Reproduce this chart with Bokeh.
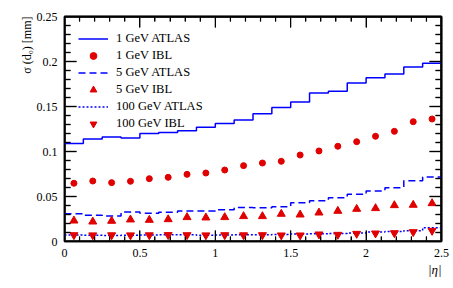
import numpy as np
from bokeh.plotting import figure
from bokeh.models import (LinearAxis, FixedTicker, SingleIntervalTicker, Title, Legend,
                          LegendItem, Range1d)
from bokeh.embed import file_html
from bokeh.resources import INLINE

# ---- data ----
eta_centers = [0.0625 + 0.125 * i for i in range(20)]
bin_width = 0.125
atlas_1gev = [0.109, 0.114, 0.116, 0.115, 0.120, 0.121, 0.123, 0.127, 0.131, 0.135,
              0.142, 0.149, 0.155, 0.165, 0.167, 0.176, 0.182, 0.186, 0.194, 0.198]
ibl_1gev = [0.0647, 0.0672, 0.0654, 0.0669, 0.0698, 0.0713, 0.0746, 0.0761, 0.0794, 0.0843,
            0.0872, 0.0891, 0.0961, 0.1006, 0.1058, 0.1109, 0.1169, 0.1224, 0.1331, 0.1361]
atlas_5gev = [0.0309, 0.0291, 0.0283, 0.0328, 0.0313, 0.0324, 0.0339, 0.0339, 0.0354, 0.0378,
              0.0374, 0.0387, 0.0431, 0.0454, 0.0487, 0.0524, 0.0561, 0.0598, 0.0676, 0.0717]
ibl_5gev = [0.0231, 0.0220, 0.0228, 0.0243, 0.0239, 0.0246, 0.0269, 0.0265, 0.0269, 0.0280,
            0.0280, 0.0306, 0.0298, 0.0320, 0.0339, 0.0361, 0.0369, 0.0402, 0.0406, 0.0424]
atlas_100gev = [0.0072, 0.0070, 0.0068, 0.0070, 0.0072, 0.0074, 0.0074, 0.0070, 0.0072, 0.0074,
                0.0075, 0.0078, 0.0082, 0.0085, 0.0090, 0.0095, 0.0105, 0.0110, 0.0120, 0.0153]
ibl_100gev = [0.0072, 0.0070, 0.0071, 0.0070, 0.0071, 0.0073, 0.0072, 0.0070, 0.0072, 0.0071,
              0.0072, 0.0069, 0.0069, 0.0080, 0.0076, 0.0087, 0.0091, 0.0094, 0.0106, 0.0120]

x_ticks = [0, 0.5, 1, 1.5, 2, 2.5]
x_tick_labels = ["0", "0.5", "1", "1.5", "2", "2.5"]
y_ticks = [0, 0.05, 0.1, 0.15, 0.2, 0.25]
y_tick_labels = ["0", "0.05", "0.1", "0.15", "0.2", "0.25"]

FONT = "Liberation Serif"
BLUE = "#0000ff"
RED = "#e00000"
INK = "#000000"
TICK = "#3a3a3a"

W, H = 453, 288
BL, BR, BT, BB = 64, 12, 16, 47
FW, FH = W - BL - BR, H - BT - BB
x_lo, x_hi = x_ticks[0], x_ticks[-1]
y_lo, y_hi = y_ticks[0], y_ticks[-1]
xpx = (x_hi - x_lo) / FW
ypx = (y_hi - y_lo) / FH

p = figure(width=W, height=H, output_backend="svg", toolbar_location=None,
           x_range=Range1d(x_lo, x_hi), y_range=Range1d(y_lo, y_hi),
           min_border_left=BL, min_border_right=BR, min_border_top=BT, min_border_bottom=BB)
p.xgrid.visible = False
p.ygrid.visible = False
p.outline_line_color = INK
p.outline_line_width = 1.5
p.background_fill_color = "white"
p.border_fill_color = "white"


def minor_positions(ticks, nminor):
    step = ticks[1] - ticks[0]
    return [ticks[j] + step * k / nminor for j in range(len(ticks) - 1) for k in range(1, nminor)]


# frame and inward ticks on all four sides, computed from the tick lists
p.quad(left=[x_lo], right=[x_hi], bottom=[y_lo], top=[y_hi], fill_color=None,
       line_color=INK, line_width=2.5)
x_minor = minor_positions(x_ticks, 5)
y_minor = minor_positions(y_ticks, 5)
for xs, length in ((x_ticks, 11), (x_minor, 5)):
    n = len(xs)
    p.segment(x0=xs, y0=[y_lo] * n, x1=xs, y1=[y_lo + length * ypx] * n,
              line_color=TICK, line_width=1.3)
    p.segment(x0=xs, y0=[y_hi] * n, x1=xs, y1=[y_hi - length * ypx] * n,
              line_color=TICK, line_width=1.3)
for ys, length in ((y_ticks, 12), (y_minor, 6)):
    n = len(ys)
    p.segment(x0=[x_lo] * n, y0=ys, x1=[x_lo + length * xpx] * n, y1=ys,
              line_color=TICK, line_width=1.3)
    p.segment(x0=[x_hi] * n, y0=ys, x1=[x_hi - length * xpx] * n, y1=ys,
              line_color=TICK, line_width=1.3)

edges = [c - bin_width / 2 for c in eta_centers] + [eta_centers[-1] + bin_width / 2]


def stepped(vals):
    return list(vals) + [vals[-1]]


r1 = p.step(edges, stepped(atlas_1gev), mode="after", line_color=BLUE, line_width=1.5)
r2 = p.scatter(eta_centers, ibl_1gev, marker="circle", size=6, fill_color=RED, line_color=RED)
r3 = p.step(edges, stepped(atlas_5gev), mode="after", line_color=BLUE, line_width=1.5,
            line_dash="7 4")
r4 = p.scatter(eta_centers, ibl_5gev, marker="triangle", size=8, fill_color=RED, line_color=RED)
r5 = p.step(edges, stepped(atlas_100gev), mode="after", line_color=BLUE, line_width=1.5,
            line_dash="2 2")
r6 = p.scatter(eta_centers, ibl_100gev, marker="inverted_triangle", size=8, fill_color=RED,
               line_color=RED)


def line_style(ax):
    ax.axis_line_color = INK
    ax.axis_line_width = 1.5
    ax.major_tick_line_color = INK
    ax.minor_tick_line_color = INK
    ax.major_tick_out = 0
    ax.minor_tick_out = 0


xa = p.xaxis[0]
xa.ticker = SingleIntervalTicker(interval=x_ticks[1] - x_ticks[0], num_minor_ticks=5)
xa.major_label_overrides = {t: l for t, l in zip(x_ticks, x_tick_labels)}
xa.major_tick_in = 11
xa.minor_tick_in = 5

ya = p.yaxis[0]
ya.ticker = SingleIntervalTicker(interval=y_ticks[1] - y_ticks[0], num_minor_ticks=5)
ya.major_label_overrides = {t: l for t, l in zip(y_ticks, y_tick_labels)}
ya.major_tick_in = 12
ya.minor_tick_in = 6

for ax in (xa, ya):
    line_style(ax)
    ax.major_label_text_font = FONT
    ax.major_label_text_font_size = "12px"
    ax.major_label_text_color = "black"
    ax.major_label_standoff = 7


def bare_axes(ticks, maj, mnr, nminor):
    a = LinearAxis(ticker=FixedTicker(ticks=[], minor_ticks=list(ticks)))
    a.minor_tick_in = maj
    b = LinearAxis(ticker=FixedTicker(ticks=[], minor_ticks=minor_positions(ticks, nminor)))
    b.minor_tick_in = mnr
    for ax in (a, b):
        line_style(ax)
    return a, b


for ax in bare_axes(x_ticks, 11, 5, 5):
    p.add_layout(ax, "above")
for ax in bare_axes(y_ticks, 12, 6, 5):
    p.add_layout(ax, "right")

p.add_layout(Title(text="σ (d₀) [mm]", align="right", text_font=FONT,
                   text_font_size="12px", text_font_style="normal", text_color="black",
                   standoff=0, offset=0), "left")
p.add_layout(Title(text="|η|", align="right", text_font=FONT,
                   text_font_size="13px", text_font_style="italic", text_color="black",
                   standoff=0, offset=0), "below")

legend = Legend(items=[
    LegendItem(label="1 GeV ATLAS", renderers=[r1]),
    LegendItem(label="1 GeV IBL", renderers=[r2]),
    LegendItem(label="5 GeV ATLAS", renderers=[r3]),
    LegendItem(label="5 GeV IBL", renderers=[r4]),
    LegendItem(label="100 GeV ATLAS", renderers=[r5]),
    LegendItem(label="100 GeV IBL", renderers=[r6]),
], location="top_left", margin=14, padding=0, spacing=0,
    glyph_width=30, glyph_height=17, label_height=17, label_standoff=8,
    border_line_color=None, background_fill_color=None,
    label_text_font=FONT, label_text_font_size="12.5px", label_text_color="black")
p.add_layout(legend, "center")

open("out.html", "w").write(file_html(p, INLINE))
